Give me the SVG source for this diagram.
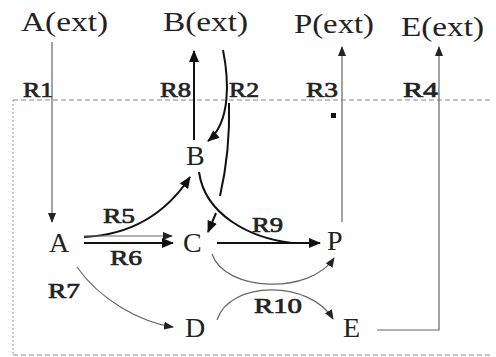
<svg xmlns="http://www.w3.org/2000/svg" width="496" height="357" viewBox="0 0 496 357">
<style>
text{font-family:"Liberation Serif","Times New Roman",serif;fill:#222}
.ext{font-size:27px}
.node{font-size:28px}
.lbl{font-size:21px;stroke:#222;stroke-width:0.7}
.thin{fill:none;stroke:#666;stroke-width:1.2}
.thick{fill:none;stroke:#111;stroke-width:2}
.box{fill:none;stroke:#888;stroke-width:1}
</style>
<defs>
<marker id="ah" markerUnits="userSpaceOnUse" markerWidth="12" markerHeight="10" refX="11" refY="5" orient="auto"><path d="M0,0 L12,5 L0,10 z" fill="#111"/></marker>
<marker id="as" markerUnits="userSpaceOnUse" markerWidth="10" markerHeight="8" refX="9" refY="4" orient="auto"><path d="M0,0 L10,4 L0,8 z" fill="#222"/></marker>
</defs>
<g id="boundary">
<path class="box" d="M13,100 L493,100 M13,355 L493,355" stroke-dasharray="5,3"/>
<path class="box" d="M13,100 L13,355" stroke-dasharray="1.5,2.5" stroke-width="1.5"/>
<rect x="331" y="113" width="5" height="5" fill="#111"/>
</g>
<g id="connectors">
<path class="thin" d="M52,42 L52,222" marker-end="url(#as)"/>
<path class="thick" d="M194,140 L194,51" marker-end="url(#ah)"/>
<path class="thick" d="M223,50 C229,80 231,122 208,141" marker-end="url(#ah)"/>
<path class="thick" d="M229,103 C230,140 226,170 220,196"/>
<path class="thick" d="M216,213 L208,232" marker-end="url(#ah)"/>
<path class="thick" d="M84,237 C130,235 165,215 190,177" marker-end="url(#ah)"/>
<path class="thin" d="M84,236 L172,236" marker-end="url(#as)"/>
<path class="thick" d="M84,243 L173,243" marker-end="url(#ah)"/>
<path class="thick" d="M217,243 L320,243" marker-end="url(#ah)"/>
<path class="thick" d="M199,172 C205,215 250,238 292,243"/>
<path class="thin" d="M212,254 C225,292 310,295 334,258" marker-end="url(#as)"/>
<path class="thin" d="M217,320 C230,280 310,280 333,319" marker-end="url(#as)"/>
<path class="thin" d="M77,267 C100,300 140,322 173,327" marker-end="url(#as)"/>
<path class="thin" d="M342,222 L342,47" marker-end="url(#as)"/>
<path class="thin" d="M377,330 L439,330 L439,47" marker-end="url(#as)"/>
</g>
<g id="A_ext"><text class="ext" x="21" y="31" textLength="87" lengthAdjust="spacingAndGlyphs">A(ext)</text></g>
<g id="B_ext"><text class="ext" x="163" y="31" textLength="85" lengthAdjust="spacingAndGlyphs">B(ext)</text></g>
<g id="P_ext"><text class="ext" x="294" y="33" textLength="80" lengthAdjust="spacingAndGlyphs">P(ext)</text></g>
<g id="E_ext"><text class="ext" x="401" y="36" textLength="83" lengthAdjust="spacingAndGlyphs">E(ext)</text></g>
<g id="B"><text class="node" x="186" y="165">B</text></g>
<g id="A"><text class="node" x="49" y="252">A</text></g>
<g id="C"><text class="node" x="183" y="252">C</text></g>
<g id="P"><text class="node" x="327" y="250">P</text></g>
<g id="D"><text class="node" x="185" y="337">D</text></g>
<g id="E"><text class="node" x="343" y="337">E</text></g>
<g id="labels">
<text class="lbl" x="23" y="97" textLength="30" lengthAdjust="spacingAndGlyphs">R1</text>
<text class="lbl" x="160" y="97" textLength="31" lengthAdjust="spacingAndGlyphs">R8</text>
<text class="lbl" x="229" y="97" textLength="30" lengthAdjust="spacingAndGlyphs">R2</text>
<text class="lbl" x="306" y="97" textLength="32" lengthAdjust="spacingAndGlyphs">R3</text>
<text class="lbl" x="403" y="97" textLength="35" lengthAdjust="spacingAndGlyphs">R4</text>
<text class="lbl" x="103" y="223" textLength="32" lengthAdjust="spacingAndGlyphs">R5</text>
<text class="lbl" x="110" y="265" textLength="32" lengthAdjust="spacingAndGlyphs">R6</text>
<text class="lbl" x="48" y="298" textLength="32" lengthAdjust="spacingAndGlyphs">R7</text>
<text class="lbl" x="252" y="232" textLength="31" lengthAdjust="spacingAndGlyphs">R9</text>
<text class="lbl" x="254" y="313" textLength="48" lengthAdjust="spacingAndGlyphs">R10</text>
</g>
</svg>
